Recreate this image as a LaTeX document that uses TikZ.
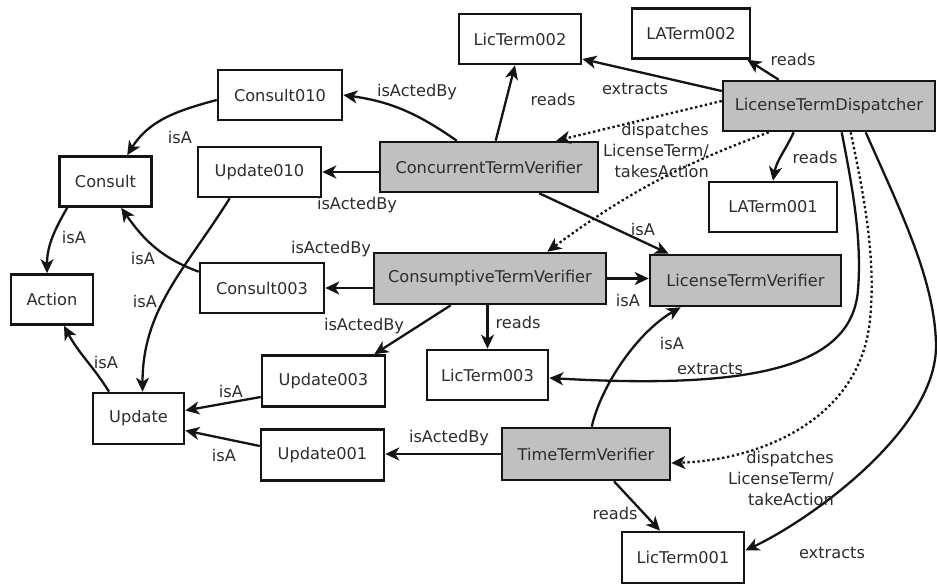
\documentclass[tikz,border=0pt]{standalone}
\usepackage{fontspec}
\setmainfont{DejaVu Sans}
\usetikzlibrary{arrows.meta}
\definecolor{boxgray}{RGB}{192,192,192}
\definecolor{txt}{RGB}{45,45,45}
\definecolor{ln}{RGB}{20,20,20}
\begin{document}
\begin{tikzpicture}[x=1pt,y=1pt,
  every node/.style={font=\fontsize{16.2}{21}\selectfont, text=txt},
  box/.style={draw=ln, line width=2.6pt, fill=white, minimum height=50pt, inner sep=0pt},
  gbox/.style={box, fill=boxgray},
  conn/.style={draw=ln, line width=2.3pt, -{Stealth[length=14pt,width=13pt,inset=4pt]}},
  dconn/.style={conn, dash pattern=on 2.4pt off 2.6pt},
  lbl/.style={inner sep=0pt}]
\useasboundingbox[fill=white] (0,0) rectangle (937,-585);
% nodes
\node[box, minimum width=124pt] (c010) at (280,-95) {Consult010};
\node[box, minimum width=92pt] (consult) at (105.5,-181.5) {Consult};
\node[box, minimum width=123pt] (u010) at (259.5,-172) {Update010};
\node[gbox, minimum width=218pt] (ctv) at (489,-167) {ConcurrentTermVerifier};
\node[box, minimum width=82pt] (action) at (52,-299.5) {Action};
\node[box, minimum width=124pt] (c003) at (262,-288) {Consult003};
\node[gbox, minimum width=232pt, minimum height=51pt] (cstv) at (490,-278.5) {ConsumptiveTermVerifier};
\node[gbox, minimum width=191pt, minimum height=51pt] (ltv) at (745.5,-280.5) {LicenseTermVerifier};
\node[box, minimum width=122pt] (lt002) at (520,-39) {LicTerm002};
\node[box, minimum width=118pt] (la002) at (691,-33.5) {LATerm002};
\node[gbox, minimum width=212pt] (ltd) at (829,-106) {LicenseTermDispatcher};
\node[box, minimum width=128pt] (la001) at (773,-207) {LATerm001};
\node[box, minimum width=121pt] (lt003) at (487.5,-375) {LicTerm003};
\node[box, minimum width=123pt, minimum height=51pt] (u003) at (323.5,-381) {Update003};
\node[box, minimum width=91pt, minimum height=51pt] (update) at (138.5,-418.5) {Update};
\node[box, minimum width=123pt, minimum height=51pt] (u001) at (322.5,-455) {Update001};
\node[gbox, minimum width=168pt, minimum height=52pt] (ttv) at (586,-454) {TimeTermVerifier};
\node[box, minimum width=122pt, minimum height=51pt] (lt001) at (683,-557.5) {LicTerm001};
% connectors
\draw[conn] ([xshift=78pt]ctv.north west) to[out=145,in=-8] (c010.east);
\draw[conn] ([yshift=-5pt]c010.west) to[out=195,in=58] ([xshift=69pt]consult.north west);
\draw[conn] (u010.east -| ctv.west) -- (u010.east);
\draw[conn] ([xshift=9pt]consult.south west) to[out=-120,in=90] ([xshift=-5pt]action.north);
\draw[conn] ([xshift=33pt]u010.south west) to[out=-122,in=90] ([xshift=4pt]update.north);
\draw[conn] ([yshift=-10pt]c003.north west) to[out=160,in=-55] ([xshift=63pt]consult.south west);
\draw[conn] (c003.east -| cstv.west) -- (c003.east);
\draw[conn] ([xshift=-29.5pt]update.north) to[out=122,in=-62] ([xshift=12pt]action.south);
\draw[conn] ([xshift=78pt]cstv.south west) -- ([xshift=-12pt]u003.north east);
\draw[conn] ([yshift=-16pt]u003.west) -- ([yshift=8pt]update.east);
\draw[conn] ([yshift=9pt]u001.west) -- ([yshift=-12pt]update.east);
\draw[conn] (ttv.west) -- (ttv.west -| u001.east);
\draw[conn] ([xshift=117pt]ctv.north west) -- ([xshift=-5pt]lt002.south);
\draw[conn] ([yshift=15pt]ltd.west) -- ([yshift=-20pt]lt002.east);
\draw[conn] ([xshift=57pt]ltd.north west) -- ([xshift=-4pt]la002.south east);
\draw[dconn] ([yshift=5pt]ltd.west) -- ([xshift=-43pt]ctv.north east);
\draw[dconn] ([xshift=47pt]ltd.south west) to[bend right=8] ([xshift=-60pt]cstv.north east);
\draw[conn] ([xshift=-60pt]ctv.south east) -- ([xshift=20pt]ltv.north west);
\draw[conn] (cstv.east) -- (cstv.east -| ltv.west);
\draw[conn] (lt003.north |- cstv.south) -- (lt003.north);
\draw[conn] ([xshift=91pt]ttv.north west) .. controls +(10,43) and +(-42,-24) .. ([xshift=32pt]ltv.south west);
\draw[conn] ([xshift=120pt]ltd.south west) .. controls (853,-190) and (862,-240) .. (858,-290)
   .. controls (852,-365) and (760,-390) .. ([yshift=-3pt]lt003.east);
\draw[dconn] ([xshift=129pt]ltd.south west) .. controls (865,-200) and (876,-260) .. (870,-320)
   .. controls (860,-420) and (760,-460) .. ([yshift=-9pt]ttv.east);
\draw[conn] ([xshift=144pt]ltd.south west) .. controls (900,-210) and (935,-280) .. (936,-345)
   .. controls (937,-430) and (810,-520) .. ([yshift=7pt]lt001.east);
\draw[conn] ([xshift=28pt]ttv.south) -- ([xshift=-23pt]lt001.north);
\draw[conn] ([xshift=72pt]ltd.south west) to[out=-115,in=80] (la001.north);
% labels
\node[lbl] (l1) at (417,-92) {isActedBy};
\node[lbl] (l2) at (180,-137) {isA};
\node[lbl] (l3) at (357,-205) {isActedBy};
\node[lbl] (l4) at (74,-237) {isA};
\node[lbl] (l5) at (145,-301) {isA};
\node[lbl] (l6) at (143,-258) {isA};
\node[lbl] (l7) at (331,-249) {isActedBy};
\node[lbl] (l8) at (106,-362) {isA};
\node[lbl] (l9) at (364,-326) {isActedBy};
\node[lbl] (l10) at (231,-391) {isA};
\node[lbl] (l11) at (224,-455) {isA};
\node[lbl] (l12) at (449,-438) {isActedBy};
\node[lbl] (l13) at (553,-99) {reads};
\node[lbl] (l14) at (635,-89) {extracts};
\node[lbl] (l15) at (793,-59) {reads};
\node[lbl, align=right, anchor=east] (l16) at (709,-150) {dispatches\\LicenseTerm/\\takesAction};
\node[lbl] (l17) at (643,-229) {isA};
\node[lbl] (l18) at (628,-300) {isA};
\node[lbl] (l19) at (518,-322) {reads};
\node[lbl] (l20) at (672,-343) {isA};
\node[lbl] (l21) at (710,-369) {extracts};
\node[lbl, align=right, anchor=east] (l22) at (834,-478) {dispatches\\LicenseTerm/\\takeAction};
\node[lbl] (l23) at (832,-553) {extracts};
\node[lbl] (l24) at (615,-513) {reads};
\node[lbl] (l25) at (815,-157) {reads};
\end{tikzpicture}
\end{document}
